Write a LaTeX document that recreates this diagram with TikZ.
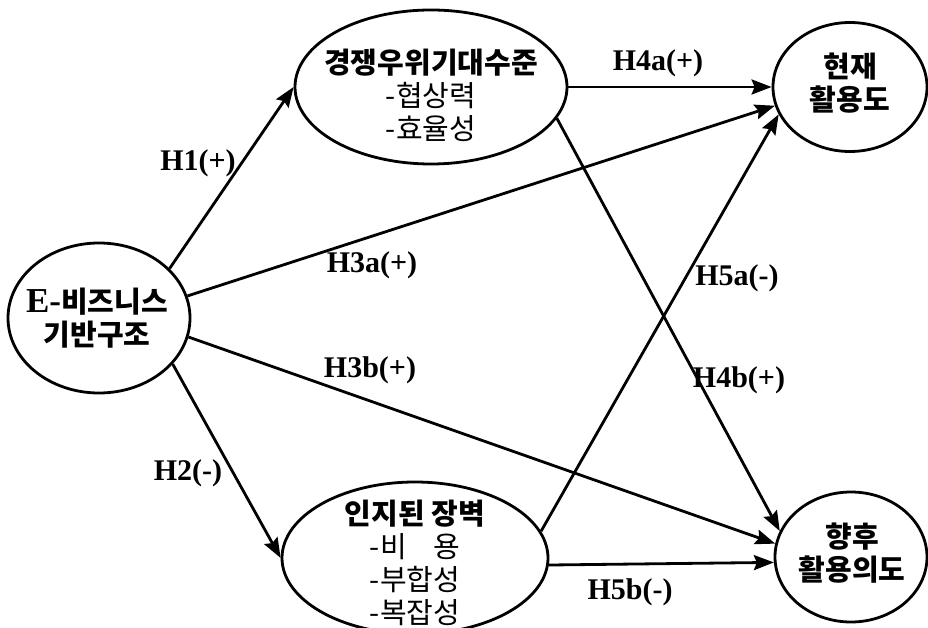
\documentclass[tikz,border=0pt]{standalone}
\usepackage{fontspec}
\setmainfont{Liberation Serif}
\newfontfamily\kr{Noto Sans CJK KR}
\usetikzlibrary{shapes.geometric,arrows.meta}

\begin{document}
\begin{tikzpicture}[x=1pt,y=-1pt,
  construct/.style={ellipse,draw,line width=2.8pt,inner sep=0pt},
  ctext/.style={font=\kr\fontsize{29}{33}\selectfont,align=center,inner sep=0pt},
  hyp/.style={line width=2.8pt,-{Stealth[length=20pt,width=15pt,inset=3pt]}},
  hlabel/.style={font=\bfseries\fontsize{30}{32}\selectfont,inner sep=0pt}
]
\clip (0,0) rectangle (928,628);

% constructs
\node[construct,minimum width=182pt,minimum height=150pt] (ebiz) at (99,318) {};
\node[construct,minimum width=272pt,minimum height=154pt] (comp) at (431,87) {};
\node[construct,minimum width=266pt,minimum height=152pt] (barr) at (415,558) {};
\node[construct,minimum width=154pt,minimum height=129pt] (cur) at (850,87) {};
\node[construct,minimum width=152pt,minimum height=130pt] (fut) at (851,557) {};

% construct texts
\node[ctext] (ebiztext) at (97,318) {\bfseries{\rmfamily\fontsize{35}{33}\selectfont E-}비즈니스\\\bfseries 기반구조};
\node[ctext] (comptext) at (431,95) {\bfseries 경쟁우위기대수준\\-협상력\\-효율성};
\node[ctext] (barrtext) at (415,563) {\bfseries 인지된 장벽\\-비\hphantom{합}용\\-부합성\\-복잡성};
\node[ctext] (curtext) at (850,83) {\bfseries 현재\\\bfseries 활용도};
\node[ctext] (futtext) at (852,553) {\bfseries 향후\\\bfseries 활용의도};

% hypotheses
\draw[hyp] (ebiz.35)  -- (comp.180);
\draw[hyp] (ebiz.-32) -- (barr.180);
\draw[hyp] (ebiz.14)  -- (cur.194);
\draw[hyp] (ebiz.-12) -- (fut.170);
\draw[hyp] (comp.0)   -- (cur.180);
\draw[hyp] (comp.-14) -- (fut.160);
\draw[hyp] (barr.12)  -- (cur.201);
\draw[hyp] (barr.-3)  -- (fut.184);

% hypothesis labels
\node[hlabel] (h1)  at (198,163) {H1(+)};
\node[hlabel] (h2)  at (188,473) {H2(-)};
\node[hlabel] (h3a) at (372,265) {H3a(+)};
\node[hlabel] (h3b) at (370,370) {H3b(+)};
\node[hlabel] (h4a) at (658,63)  {H4a(+)};
\node[hlabel] (h4b) at (739,380) {H4b(+)};
\node[hlabel] (h5a) at (737,278) {H5a(-)};
\node[hlabel] (h5b) at (630,592) {H5b(-)};
\end{tikzpicture}
\end{document}
